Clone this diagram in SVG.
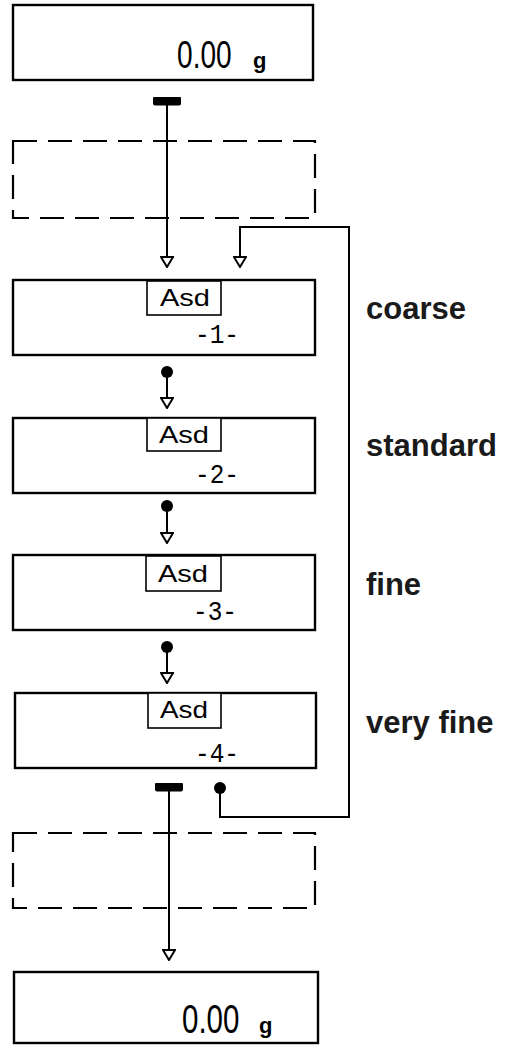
<svg xmlns="http://www.w3.org/2000/svg" width="513" height="1046" viewBox="0 0 513 1046">
<style>
  .box { fill: #fff; stroke: #000; stroke-width: 2.4; }
  .dash { fill: none; stroke: #000; stroke-width: 2.2; stroke-dasharray: 24 11; }
  .sub { fill: #fff; stroke: #000; stroke-width: 1.6; }
  .asd { font-family: "Liberation Sans", Arial, sans-serif; font-size: 24px; fill: #000; text-anchor: middle; }
  .lcd { font-family: "Liberation Sans", Arial, sans-serif; fill: #000; }
  .seg { font-family: "Liberation Mono", "Courier New", monospace; font-size: 28px; fill: #000; }
  .lbl { font-family: "Liberation Sans", Arial, Helvetica, sans-serif; font-weight: bold; font-size: 31px; fill: #1a1a1a; }
  .con { fill: none; stroke: #000; stroke-width: 2; }
</style>
<defs>
  <marker id="arrow" viewBox="0 0 12 14" refX="11" refY="7" markerWidth="12" markerHeight="14" markerUnits="userSpaceOnUse" orient="auto">
    <path d="M1,1 L11,7 L1,13 Z" fill="#fff" stroke="#000" stroke-width="2"/>
  </marker>
  <marker id="dot" viewBox="0 0 13 13" refX="6.5" refY="6.5" markerWidth="13" markerHeight="13" markerUnits="userSpaceOnUse" orient="0">
    <circle cx="6.5" cy="6.5" r="6" fill="#000"/>
  </marker>
  <marker id="bar" viewBox="0 0 28 9" refX="14" refY="4.5" markerWidth="28" markerHeight="9" markerUnits="userSpaceOnUse" orient="0">
    <rect x="0" y="0" width="28" height="9" rx="2" fill="#000"/>
  </marker>
</defs>

<g id="display-start">
  <rect class="box" x="13" y="5" width="300" height="75"/>
  <text class="lcd" transform="translate(177,68) scale(0.74,1)" font-size="38">0.00</text>
  <text class="lcd" x="253" y="68" font-size="22" font-weight="bold">g</text>
</g>

<g id="dashed-top">
  <rect class="dash" x="13" y="141" width="302" height="77"/>
</g>

<g id="asd-1">
  <rect class="box" x="13" y="280" width="302" height="75"/>
  <rect class="sub" x="147" y="281" width="74" height="34"/>
  <text class="asd" x="185" y="306" textLength="50" lengthAdjust="spacingAndGlyphs">Asd</text>
  <text class="seg" x="195" y="343" textLength="44" lengthAdjust="spacingAndGlyphs">-1-</text>
</g>

<g id="asd-2">
  <rect class="box" x="13" y="418" width="302" height="75"/>
  <rect class="sub" x="147" y="418" width="74" height="33"/>
  <text class="asd" x="184" y="443" textLength="50" lengthAdjust="spacingAndGlyphs">Asd</text>
  <text class="seg" x="195" y="483" textLength="44" lengthAdjust="spacingAndGlyphs">-2-</text>
</g>

<g id="asd-3">
  <rect class="box" x="13" y="555" width="302" height="75"/>
  <rect class="sub" x="146" y="556" width="75" height="35"/>
  <text class="asd" x="183" y="582" textLength="50" lengthAdjust="spacingAndGlyphs">Asd</text>
  <text class="seg" x="193" y="620" textLength="44" lengthAdjust="spacingAndGlyphs">-3-</text>
</g>

<g id="asd-4">
  <rect class="box" x="15" y="693" width="301" height="75"/>
  <rect class="sub" x="148" y="693" width="73" height="35"/>
  <text class="asd" x="184" y="718" textLength="48" lengthAdjust="spacingAndGlyphs">Asd</text>
  <text class="seg" x="195" y="762" textLength="44" lengthAdjust="spacingAndGlyphs">-4-</text>
</g>

<g id="dashed-bottom">
  <rect class="dash" x="13" y="833" width="302" height="75"/>
</g>

<g id="display-end">
  <rect class="box" x="14" y="972" width="304" height="71"/>
  <text class="lcd" transform="translate(182,1033) scale(0.72,1)" font-size="41">0.00</text>
  <text class="lcd" x="259" y="1033" font-size="22" font-weight="bold">g</text>
</g>

<g id="labels">
  <text class="lbl" x="366" y="319">coarse</text>
  <text class="lbl" x="366" y="456">standard</text>
  <text class="lbl" x="366" y="595">fine</text>
  <text class="lbl" x="366" y="733">very fine</text>
</g>

<g id="connectors">
  <path class="con" d="M167,101 V267" marker-start="url(#bar)" marker-end="url(#arrow)"/>
  <path class="con" d="M220,788 V817 H349 V227 H240 V267" marker-start="url(#dot)" marker-end="url(#arrow)"/>
  <path class="con" d="M167,372 V408" marker-start="url(#dot)" marker-end="url(#arrow)"/>
  <path class="con" d="M167,506 V543" marker-start="url(#dot)" marker-end="url(#arrow)"/>
  <path class="con" d="M167,647 V683" marker-start="url(#dot)" marker-end="url(#arrow)"/>
  <path class="con" d="M169,787 V960" marker-start="url(#bar)" marker-end="url(#arrow)"/>
</g>
</svg>
